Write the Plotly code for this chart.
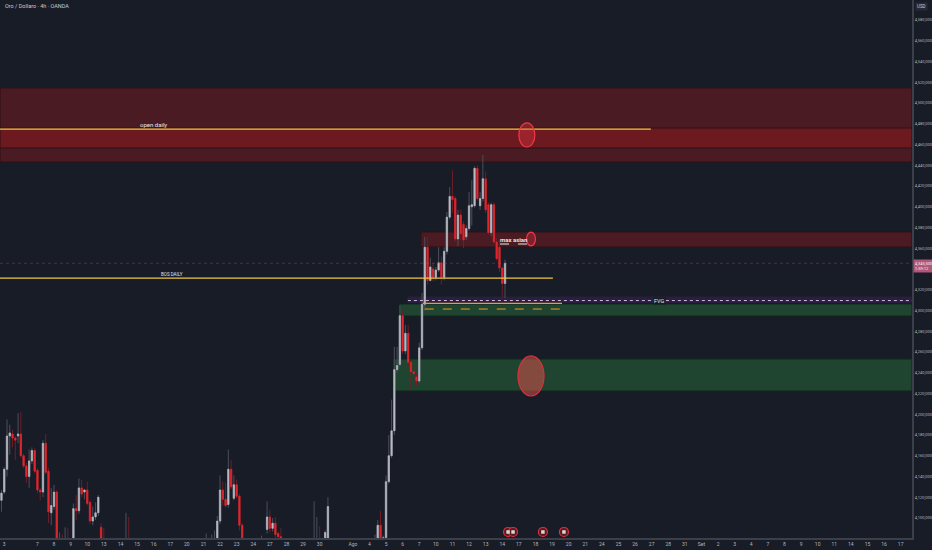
import plotly.graph_objects as go

# ── Design tokens ────────────────────────────────────────────────────────────
BG          = "#181c27"
AXIS_LINE   = "#3b3f4a"
TICK_COLOR  = "#b2b5be"
FONT_FAMILY = "Roboto, Arial, sans-serif"

UP_BODY   = "#b8bbc3"
DOWN_BODY = "#e3262e"
UP_WICK   = "#4b4f5b"
DOWN_WICK = "#6d1f28"

ZONE_RED    = "#4a1b23"
ZONE_RED_HI = "#6c1a20"
ZONE_GREEN  = "#1f4430"
YELLOW      = "#f2c540"
ORANGE      = "#f59b23"

W, H = 932, 550
X_MIN, X_MAX = -2.53, 327.1
Y_MIN, Y_MAX = 4080.7, 4599.3

# ── Data: 4h bars (index = bar number, 6 bars per trading day) ───────────────
bar_index = (
    list(range(-2, 36)) + [43, 44]
    + [72, 74, 75, 76, 77, 78, 79, 80, 81, 82, 83, 84, 85]
    + [92, 94, 95, 96, 97, 98, 99]
    + [111, 112, 113, 115, 116]
    + list(range(133, 181))
)

opens = [
    4117, 4125, 4147, 4179, 4181, 4177, 4179, 4181, 4160, 4150, 4140, 4155, 4165,
    4146, 4127, 4125, 4172, 4145, 4105, 4111, 4125, 4065, 4075, 4060, 4078, 4065,
    4070, 4109, 4107, 4129, 4125, 4127, 4115, 4097, 4101, 4105, 4091, 4070,
    4050, 4070,
    4070, 4070, 4074, 4075, 4097, 4127, 4118, 4113, 4147, 4119, 4132, 4121, 4093,
    4065, 4089, 4101, 4090, 4095, 4085, 4082,
    4060, 4070, 4078, 4075, 4078,
    4065, 4078, 4093, 4079, 4081, 4135, 4160, 4184, 4243, 4248, 4295, 4261, 4278,
    4250, 4241, 4236, 4232, 4264, 4306, 4361, 4329, 4340, 4332, 4339, 4346, 4332,
    4357, 4390, 4410, 4408, 4369, 4392, 4383, 4371, 4379, 4400, 4401, 4437, 4401,
    4408, 4427, 4402, 4375, 4402, 4366, 4361, 4341, 4326,
]
highs = [
    4127, 4149, 4195, 4190, 4185, 4179, 4201, 4202, 4162, 4153, 4166, 4168, 4167,
    4148, 4129, 4175, 4181, 4148, 4129, 4132, 4127, 4086, 4084, 4091, 4090, 4075,
    4114, 4122, 4138, 4137, 4128, 4135, 4117, 4111, 4115, 4122, 4095, 4090,
    4105, 4101,
    4085, 4084, 4088, 4102, 4141, 4135, 4134, 4166, 4156, 4141, 4137, 4123, 4095,
    4083, 4116, 4108, 4100, 4101, 4087, 4090,
    4116, 4101, 4092, 4088, 4120,
    4084, 4098, 4107, 4083, 4141, 4180, 4214, 4265, 4265, 4305, 4300, 4286, 4286,
    4252, 4246, 4239, 4269, 4317, 4371, 4371, 4351, 4346, 4342, 4361, 4352, 4361,
    4395, 4419, 4435, 4410, 4397, 4397, 4386, 4382, 4414, 4426, 4439, 4440, 4414,
    4450, 4434, 4404, 4404, 4404, 4370, 4368, 4342, 4349,
]
lows = [
    4106, 4123, 4140, 4161, 4168, 4156, 4172, 4158, 4148, 4134, 4129, 4152, 4143,
    4124, 4117, 4120, 4142, 4095, 4093, 4108, 4060, 4055, 4050, 4055, 4055, 4050,
    4065, 4098, 4104, 4120, 4118, 4112, 4094, 4093, 4098, 4102, 4060, 4050,
    4040, 4040,
    4060, 4062, 4066, 4070, 4094, 4112, 4110, 4110, 4128, 4117, 4119, 4088, 4060,
    4055, 4085, 4086, 4087, 4080, 4078, 4075,
    4055, 4060, 4055, 4070, 4072,
    4060, 4075, 4076, 4077, 4079, 4133, 4158, 4180, 4240, 4246, 4258, 4258, 4246,
    4223, 4227, 4228, 4230, 4262, 4300, 4325, 4328, 4328, 4329, 4337, 4325, 4329,
    4354, 4388, 4394, 4366, 4362, 4368, 4360, 4368, 4377, 4382, 4399, 4406, 4397,
    4405, 4394, 4373, 4372, 4365, 4348, 4337, 4312, 4312,
]
closes = [
    4124, 4147, 4179, 4182, 4177, 4175, 4181, 4160, 4150, 4140, 4155, 4165, 4145,
    4127, 4125, 4172, 4144, 4106, 4112, 4125, 4070, 4075, 4060, 4078, 4065, 4070,
    4109, 4107, 4129, 4123, 4127, 4114, 4097, 4101, 4105, 4120, 4070, 4060,
    4070, 4050,
    4078, 4076, 4080, 4097, 4127, 4118, 4112, 4147, 4130, 4132, 4121, 4093, 4070,
    4075, 4101, 4090, 4095, 4084, 4082, 4080,
    4075, 4078, 4065, 4086, 4111,
    4076, 4093, 4079, 4081, 4135, 4160, 4184, 4243, 4247, 4295, 4261, 4278, 4250,
    4241, 4239, 4232, 4264, 4306, 4361, 4329, 4342, 4332, 4339, 4346, 4332, 4357,
    4390, 4410, 4407, 4369, 4392, 4374, 4368, 4379, 4401, 4402, 4437, 4408, 4408,
    4427, 4397, 4375, 4402, 4366, 4350, 4341, 4326, 4345.5,
]

# x-axis: trading-day number and its label (tick sits on bar 6*day - 1)
tick_days = [0, 2, 3, 4, 5, 6, 7, 8, 9, 10, 11, 12, 13, 14, 15, 16, 17, 18, 19,
             21, 22, 23, 24, 25, 26, 27, 28, 29, 30, 31, 32, 33, 34, 35, 36, 37,
             38, 39, 40, 41, 42, 43, 44, 45, 46, 47, 48, 49, 50, 51, 52, 53, 54]
tick_labels = ["3", "7", "8", "9", "10", "13", "14", "15", "16", "17", "20", "21",
               "22", "23", "24", "27", "28", "29", "30", "Ago", "4", "5", "6", "7",
               "10", "11", "12", "13", "14", "17", "18", "19", "20", "21", "24",
               "25", "26", "27", "28", "31", "Set", "2", "3", "4", "7", "8", "9",
               "10", "11", "14", "15", "16", "17"]

price_ticks = list(range(4100, 4581, 20))

# event markers along the bottom
event_bars  = [181.1, 182.9, 193.7, 201.3]
event_price = [4086.5, 4086.5, 4086.5, 4086.5]

last_price = closes[-1]

# ── Figure ───────────────────────────────────────────────────────────────────
fig = go.Figure()

# wicks (dim) – full range candles underneath
fig.add_trace(go.Candlestick(
    x=bar_index, open=opens, high=highs, low=lows, close=closes,
    increasing=dict(line=dict(color=UP_WICK, width=1), fillcolor=UP_WICK),
    decreasing=dict(line=dict(color=DOWN_WICK, width=1), fillcolor=DOWN_WICK),
    hoverinfo="skip", showlegend=False,
))

# bodies (bright) – open/close only
body_hi = [max(o, c) for o, c in zip(opens, closes)]
body_lo = [min(o, c) for o, c in zip(opens, closes)]
fig.add_trace(go.Candlestick(
    x=bar_index, open=opens, high=body_hi, low=body_lo, close=closes,
    increasing=dict(line=dict(color=UP_BODY, width=0.6), fillcolor=UP_BODY),
    decreasing=dict(line=dict(color=DOWN_BODY, width=0.6), fillcolor=DOWN_BODY),
    hoverinfo="skip", showlegend=False,
))

# event markers
fig.add_trace(go.Scatter(
    x=event_bars, y=event_price, mode="markers",
    marker=dict(size=9, color="#5a1a24", line=dict(color="#e0303c", width=1.2)),
    hoverinfo="skip", showlegend=False,
))
fig.add_trace(go.Scatter(
    x=event_bars, y=event_price, mode="markers",
    marker=dict(size=3.5, symbol="square", color="#d8d8d8"),
    hoverinfo="skip", showlegend=False,
))

shapes = []


def rect(x0, x1, y0, y1, fill, line="#10131b"):
    shapes.append(dict(type="rect", xref="x", yref="y", x0=x0, x1=x1, y0=y0, y1=y1,
                       fillcolor=fill, line=dict(color=line, width=1), layer="below"))


def hline(x0, x1, y, color, dash="solid", width=1):
    shapes.append(dict(type="line", xref="x", yref="y", x0=x0, x1=x1, y0=y, y1=y,
                       line=dict(color=color, width=width, dash=dash)))


def ellipse(xc, yc, rx, ry, fill, line):
    shapes.append(dict(type="circle", xref="x", yref="y", x0=xc - rx, x1=xc + rx,
                       y0=yc - ry, y1=yc + ry, fillcolor=fill,
                       line=dict(color=line, width=1.2)))


# supply zone (top) with brighter inner band
rect(X_MIN, X_MAX, 4443.1, 4514.5, ZONE_RED, "#2e1117")
rect(X_MIN, X_MAX, 4456.6, 4475.9, ZONE_RED_HI, "#2e1117")
# max asian zone
rect(149.6, X_MAX, 4361.2, 4375.7, ZONE_RED, "#2e1117")
# demand zones
rect(141.7, X_MAX, 4294.7, 4306.3, ZONE_GREEN, "#10261a")
rect(139.5, X_MAX, 4222.4, 4253.3, ZONE_GREEN, "#10261a")
# FVG band
rect(144.9, X_MAX, 4307.6, 4313.0, "#2a1f3d", "#2a1f3d")

# current price line
hline(X_MIN, X_MAX, last_price, "rgba(176,87,122,0.35)", "dot")
# open daily / BOS daily
hline(X_MIN, 232.7, 4474.9, YELLOW, width=1.2)
hline(X_MIN, 197.3, 4331.3, YELLOW, width=1.2)
# FVG dotted line
hline(144.9, X_MAX, 4309.6, "#cbb8e6", "dot")
# orange levels
hline(150.3, 200.6, 4306.9, ORANGE, width=1.4)
hline(151.0, 201.3, 4301.4, ORANGE, "dash")
# max asian dashed
hline(178.2, 188.3, 4364.1, "#e8e8e8", "dash", 1.2)

# ellipses
ellipse(187.9, 4469.2, 2.9, 11.6, "rgba(242,54,69,0.35)", "#f23645")
ellipse(189.4, 4368.9, 1.6, 6.7, "rgba(242,54,69,0.30)", "#f23645")
ellipse(189.4, 4236.9, 4.7, 19.3, "rgba(214,80,72,0.55)", "#d8323f")

annotations = [
    dict(x=52.8, y=4474.9, xref="x", yref="y", text="open daily", showarrow=False,
         yshift=5, font=dict(size=6, color="#e6e6e6")),
    dict(x=59.6, y=4331.3, xref="x", yref="y", text="BOS DAILY", showarrow=False,
         yshift=4, font=dict(size=4.5, color="#e6e6e6")),
    dict(x=183.2, y=4368.9, xref="x", yref="y", text="<b>max asian</b>", showarrow=False,
         font=dict(size=6, color="#e6e6e6")),
    dict(x=236.0, y=4309.6, xref="x", yref="y", text="FVG", showarrow=False,
         bgcolor=BG, borderpad=0, font=dict(size=5.5, color="#e6e6e6")),
    dict(x=0.003, y=0.999, xref="paper", yref="paper", text="Oro / Dollaro · 4h · OANDA",
         showarrow=False, xanchor="left", yanchor="top",
         font=dict(size=5.5, color="#c8cad0")),
    dict(x=1.003, y=0.997, xref="paper", yref="paper", text="USD", showarrow=False,
         xanchor="left", yanchor="top", bgcolor="#262a35", borderpad=1,
         font=dict(size=4.5, color="#c8cad0")),
    dict(x=1.001, y=last_price, xref="paper", yref="y",
         text=f"{last_price * 1000:,.0f}<br>1:59:12", showarrow=False,
         xanchor="left", yanchor="top", align="left", bgcolor="#b0577a", borderpad=1,
         yshift=4, font=dict(size=4, color="#f3f3f3")),
]

# the live-price tag hides the tick label it sits on
price_ticktext = ["" if abs(v - last_price) < 10 else f"{v:,},000" for v in price_ticks]

fig.update_layout(
    width=W, height=H,
    paper_bgcolor=BG, plot_bgcolor=BG,
    font=dict(family=FONT_FAMILY, size=5, color=TICK_COLOR),
    margin=dict(l=0, r=20, t=0, b=12),
    showlegend=False,
    shapes=shapes,
    annotations=annotations,
    xaxis=dict(
        range=[X_MIN, X_MAX], rangeslider=dict(visible=False),
        showgrid=False, zeroline=False,
        tickmode="array", tickvals=[6 * d - 1 for d in tick_days], ticktext=tick_labels,
        tickfont=dict(size=5, color=TICK_COLOR), ticks="",
        showline=True, linecolor=AXIS_LINE, linewidth=2,
        automargin=False, fixedrange=True,
    ),
    yaxis=dict(
        range=[Y_MIN, Y_MAX], side="right",
        showgrid=False, zeroline=False,
        tickmode="array", tickvals=price_ticks, ticktext=price_ticktext,
        tickfont=dict(size=4, color=TICK_COLOR), ticks="",
        showline=True, linecolor=AXIS_LINE, linewidth=2,
        automargin=False, fixedrange=True,
    ),
)

# the page's default 8px body margin would shift the chart out of the window
fig.write_html(
    "out.html",
    config={"displayModeBar": False},
    post_script="document.body.style.margin='0';"
                "document.body.style.background='" + BG + "';",
)
